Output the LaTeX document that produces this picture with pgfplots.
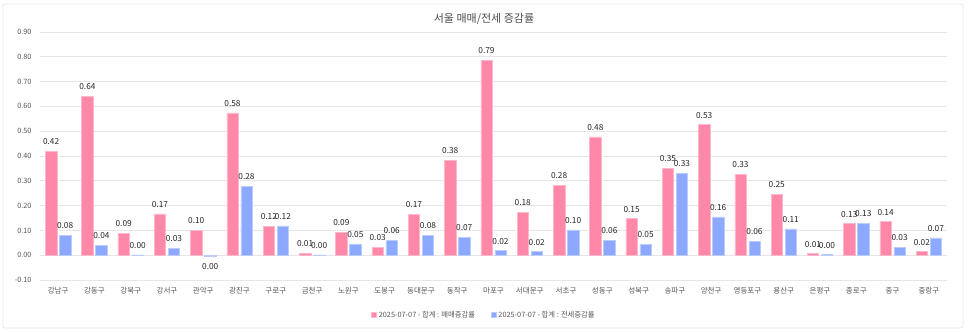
\documentclass[border=0pt]{standalone}
\usepackage{fontspec}
\setmainfont{Noto Sans CJK KR}
\usepackage{pgfplots}
\usepackage{pgfplotstable}
\pgfplotsset{compat=1.18}
\definecolor{pinkbar}{HTML}{FF87A7}
\definecolor{bluebar}{HTML}{8CA9FF}
\definecolor{gridc}{HTML}{E6E6E6}
\definecolor{txtgray}{HTML}{555555}

\pgfplotstableread{
x y lab dy
0 0.420 0.42 0
1 0.640 0.64 0
2 0.087 0.09 0
3 0.167 0.17 0
4 0.099 0.10 0
5 0.574 0.58 0
6 0.117 0.12 0
7 0.007 0.01 0
8 0.092 0.09 0
9 0.031 0.03 0
10 0.166 0.17 0
11 0.382 0.38 0
12 0.787 0.79 0
13 0.174 0.18 0
14 0.281 0.28 0
15 0.477 0.48 0
16 0.147 0.15 0
17 0.351 0.35 0
18 0.526 0.53 0
19 0.327 0.33 0
20 0.246 0.25 0
21 0.006 0.01 0
22 0.127 0.13 0
23 0.135 0.14 0
24 0.014 0.02 0
}\saletab

\pgfplotstableread{
x y lab dy
0 0.081 0.08 0
1 0.041 0.04 0
2 0.001 0.00 0
3 0.029 0.03 0
4 -0.004 0.00 -20.5
5 0.277 0.28 0
6 0.118 0.12 0
7 0.001 0.00 0
8 0.046 0.05 0
9 0.059 0.06 0
10 0.081 0.08 0
11 0.071 0.07 0
12 0.018 0.02 0
13 0.014 0.02 0
14 0.102 0.10 0
15 0.059 0.06 0
16 0.045 0.05 0
17 0.331 0.33 0
18 0.155 0.16 0
19 0.057 0.06 0
20 0.106 0.11 0
21 0.002 0.00 0
22 0.128 0.13 0
23 0.032 0.03 0
24 0.070 0.07 0
}\jeontab

\begin{document}
\begin{tikzpicture}
\path[use as bounding box] (-40bp,-52bp) rectangle (928bp,280bp);
\draw[rounded corners=2bp, color=gridc, line width=0.8bp] (-37bp,-48bp) rectangle (923bp,276bp);
\node[font=\fontsize{11bp}{13bp}\selectfont, text=txtgray!90!black] at (444bp,261bp) {서울 매매/전세 증감률};
\begin{axis}[
  at={(0,0)}, anchor=south west,
  scale only axis, width=907bp, height=248bp,
  xmin=-0.5, xmax=24.5, ymin=-0.1, ymax=0.9,
  ybar=2.6bp, bar width=11.4bp,
  axis line style={draw=none},
  major tick length=0pt,
  ytick={-0.1,0,0.1,0.2,0.3,0.4,0.5,0.6,0.7,0.8,0.9},
  ymajorgrids, grid style={gridc, line width=0.7bp},
  xtick={0,...,24},
  xticklabels={강남구,강동구,강북구,강서구,관악구,광진구,구로구,금천구,노원구,도봉구,동대문구,동작구,마포구,서대문구,서초구,성동구,성북구,송파구,양천구,영등포구,용산구,은평구,종로구,중구,중랑구},
  xticklabel style={font=\fontsize{7.5bp}{9bp}\selectfont, text=txtgray, yshift=-4bp},
  yticklabel style={font=\fontsize{7.3bp}{9bp}\selectfont, text=txtgray, xshift=-5bp},
  yticklabel={\pgfmathprintnumber[fixed,zerofill,precision=2,assume math mode=true]{\tick}},
  nodes near coords, point meta=explicit symbolic,
  visualization depends on={\thisrow{dy} \as \dy},
  nodes near coords style={font=\fontsize{8.3bp}{9bp}\selectfont, text=black!85, inner xsep=0bp, inner ysep=6.3bp, yshift=\dy pt},
  legend style={at={(axis description cs:0.4895,-0.1411)}, anchor=center, draw=none, fill=none,
    font=\fontsize{7.3bp}{9bp}\selectfont, text=txtgray,
    /tikz/every even column/.append style={column sep=14bp}},
  legend columns=2,
  legend image code/.code={\fill[#1] (0bp,-2.5bp) rectangle (5bp,2.5bp);},
  clip=false,
]
\addplot[fill=pinkbar, draw=pinkbar!60!white, line width=0.5bp] table[x=x, y=y, meta=lab] {\saletab};
\addplot[fill=bluebar, draw=bluebar!60!white, line width=0.5bp] table[x=x, y=y, meta=lab] {\jeontab};
\legend{2025-07-07 - 합계 : 매매증감률, 2025-07-07 - 합계 : 전세증감률}
\end{axis}
\end{tikzpicture}
\end{document}
